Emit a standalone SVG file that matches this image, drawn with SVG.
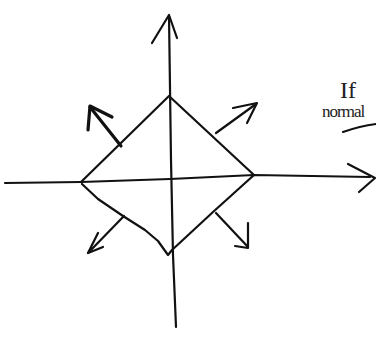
<svg xmlns="http://www.w3.org/2000/svg" width="376" height="339" viewBox="0 0 376 339">
<style>
.ln{fill:none;stroke:#111;stroke-width:2.2;stroke-linecap:round;stroke-linejoin:round}
.thick{stroke-width:3.2}
.txt{font-family:"Liberation Serif",serif;fill:#222}
</style>
<rect width="376" height="339" fill="#fff"/>
<g id="axes">
<path class="ln" d="M169 16 L171 160 L173 255 L176 327"/>
<path class="ln" d="M152 43 L169 15 L177 38"/>
<path class="ln" d="M5 183 L81 182 L170 179 L254 175 L370 177"/>
<path class="ln" d="M348 164 L375 178 L359 192"/>
</g>
<g id="diamond">
<path class="ln" d="M81 182 L169 96 L254 175 L213 212 L185 238 L172 250 L168 255 L158 241 L145 230 L123 216 L98 199 L82 184"/>
</g>
<g id="connectors">
<path class="ln thick" d="M121 146 L90 107"/>
<path class="ln thick" d="M88 130 L90 106 L112 117"/>
<path class="ln" d="M216 133 L256 104"/>
<path class="ln" d="M233 108 L257 103 L247 123"/>
<path class="ln" d="M124 216 L88 253"/>
<path class="ln" d="M98 233 L88 253 L103 247"/>
<path class="ln" d="M216 213 L248 247"/>
<path class="ln" d="M248 223 L248 248 L235 246"/>
</g>
<g id="note">
<text class="txt" x="340" y="98" font-size="24">If</text>
<text class="txt" x="322" y="117" font-size="17" letter-spacing="-1">normal</text>
<path class="ln" d="M343 132 Q360 126 376 124" stroke-width="1.6"/>
</g>
</svg>
